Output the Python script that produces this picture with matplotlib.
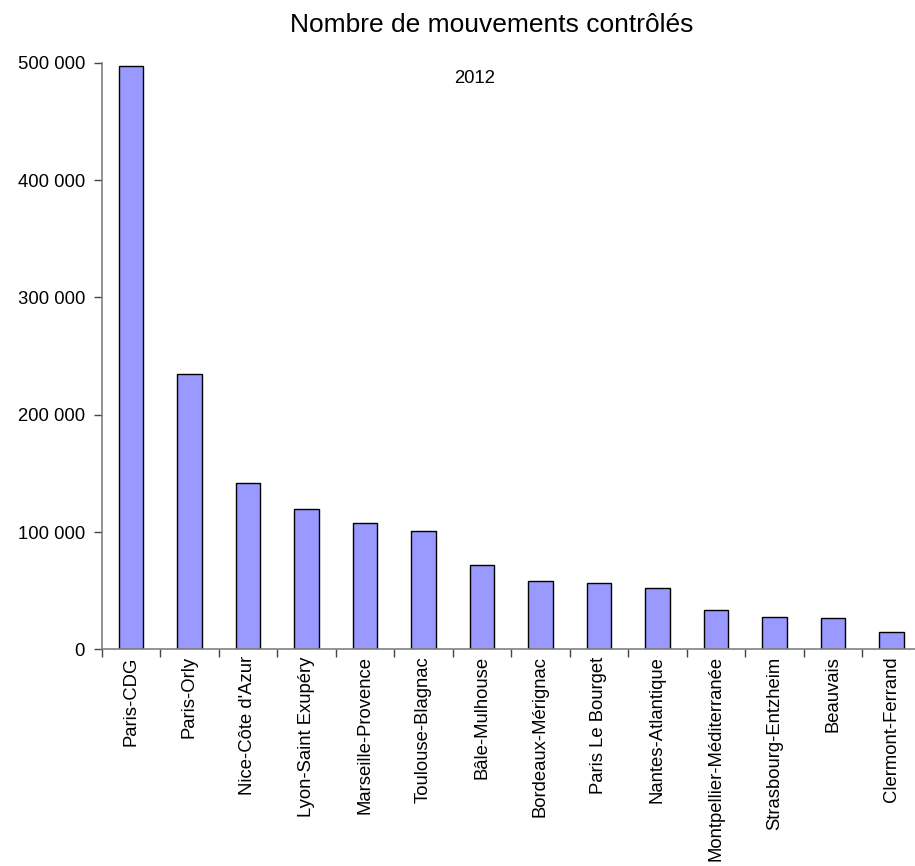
import numpy as np
import matplotlib
matplotlib.use("Agg")
import matplotlib.pyplot as plt
from matplotlib.ticker import FuncFormatter, FixedLocator

plt.rcParams['font.family'] = ['Liberation Sans', 'DejaVu Sans']

# Données (2012)
aeroports = ["Paris-CDG", "Paris-Orly", "Nice-Côte d'Azur", "Lyon-Saint Exupéry",
             "Marseille-Provence", "Toulouse-Blagnac", "Bâle-Mulhouse",
             "Bordeaux-Mérignac", "Paris Le Bourget", "Nantes-Atlantique",
             "Montpellier-Méditerranée", "Strasbourg-Entzheim", "Beauvais",
             "Clermont-Ferrand"]
mouvements = [497000, 234400, 142000, 119900, 108000, 101000, 72100,
              58000, 56800, 52500, 33500, 27800, 26900, 14800]
annee = "2012"

fig = plt.figure(figsize=(9.15, 8.66), dpi=100)
ax = fig.add_axes([0.1111, 0.2502, 0.895, 0.6774])

x = np.arange(len(aeroports))
ax.bar(x, mouvements, width=0.42, color='#9999FF', edgecolor='black', linewidth=1)

ax.set_xlim(-0.5, len(aeroports) - 0.5)
ax.set_ylim(0, 500000)
ax.set_yticks(np.arange(0, 500001, 100000))
ax.yaxis.set_major_formatter(FuncFormatter(lambda v, p: f"{int(v):,}".replace(",", " ")))

ax.set_xticks(x)
ax.set_xticklabels(aeroports, rotation=90, fontsize=13.3)
ax.xaxis.set_minor_locator(FixedLocator(np.arange(-0.5, len(aeroports), 1)))
ax.tick_params(axis='x', which='major', length=0, pad=5)
ax.tick_params(axis='x', which='minor', length=6, color='#444444', width=1)
ax.tick_params(axis='y', length=6, color='#444444', width=1, pad=6, labelsize=13.3)

for s in ['top', 'right']:
    ax.spines[s].set_visible(False)
for s in ['left', 'bottom']:
    ax.spines[s].set_color('#808080')
    ax.spines[s].set_linewidth(1.2)

fig.text(492 / 915, 1 - 32 / 866, "Nombre de mouvements contrôlés", fontsize=19,
         ha='center', va='baseline')
fig.text(474.5 / 915, 1 - 78.3 / 866, annee, fontsize=13.3, ha='center', va='center')

fig.savefig("out.png", dpi=100)
